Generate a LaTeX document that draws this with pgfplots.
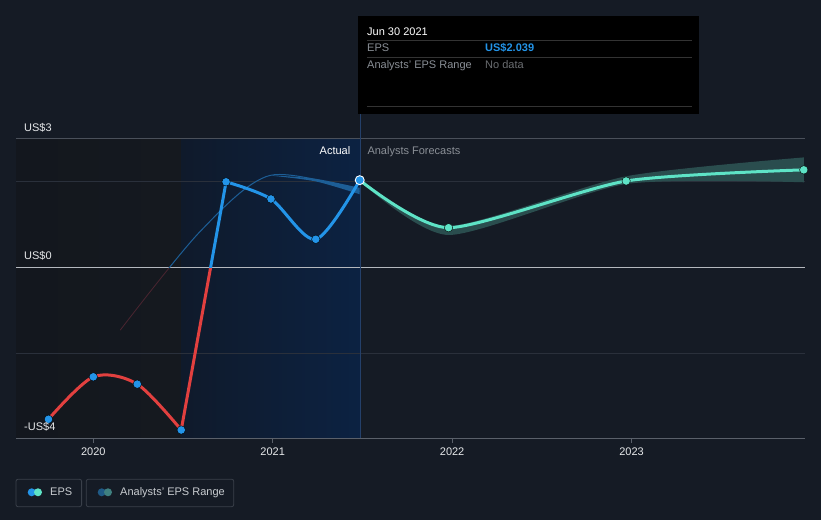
\documentclass[border=0pt]{standalone}
\usepackage{pgfplots}
\pgfplotsset{compat=1.18}
\usepgfplotslibrary{fillbetween}
\usepackage{fontspec}
\setmainfont{Liberation Sans}
\definecolor{bg}{HTML}{151B25}
\definecolor{leftreg}{HTML}{13171E}
\definecolor{leftreg2}{HTML}{15191F}
\definecolor{bluereg1}{HTML}{0F1A2B}
\definecolor{bluereg2}{HTML}{0C2242}
\definecolor{gridc}{HTML}{2A303B}
\definecolor{topline}{HTML}{4A505A}
\definecolor{zeroline}{HTML}{B4B8BE}
\definecolor{axisgray}{HTML}{5A606A}
\definecolor{ticktext}{HTML}{E6E8EA}
\definecolor{epsblue}{HTML}{2394E8}
\definecolor{epsred}{HTML}{E2403F}
\definecolor{teal}{HTML}{5EE3C6}
\definecolor{band}{HTML}{2A4D4E}
\definecolor{oldblue}{HTML}{1D5E96}
\definecolor{oldred}{HTML}{4A2530}
\definecolor{legborder}{HTML}{3A404A}
\definecolor{legtext}{HTML}{C8CCD0}
\definecolor{graytext}{HTML}{8A8F96}
\definecolor{dimtext}{HTML}{6B6E72}
\definecolor{ttline}{HTML}{333333}
\definecolor{vline}{HTML}{24406A}
\definecolor{legdarkblue}{HTML}{1F5A86}
\definecolor{legdarkteal}{HTML}{3F8080}
\begin{document}
\begin{tikzpicture}[font=\fontsize{11}{13}\selectfont]
\begin{axis}[
  at={(16pt,81pt)}, anchor=south west,
  width=789pt, height=300pt, scale only axis,
  set layers, clip mode=individual,
  xmin=2019.569, xmax=2023.967, ymin=-4, ymax=3,
  axis x line=bottom, axis y line=none,
  x axis line style={color=axisgray, line width=1pt, -},
  xtick={2020,2021,2022,2023}, xticklabels={2020,2021,2022,2023},
  ytick=\empty,
  tick align=outside, major tick length=4pt,
  tick style={color=axisgray, line width=0.8pt},
  xticklabel style={text=ticktext, anchor=base, yshift=-13pt},
]
\begin{pgfonlayer}{axis background}
  % page background: page spans 0..821pt x 0..520pt
  \fill[bg] (rel axis cs:-0.02028,-0.27) rectangle (rel axis cs:1.02028,1.46334);
  \fill[left color=leftreg, right color=leftreg2] (axis cs:2019.569,-4) rectangle (axis cs:2020.4916,3);
  \fill[left color=bluereg1, right color=bluereg2] (axis cs:2020.4916,-4) rectangle (axis cs:2021.4866,3);
\end{pgfonlayer}
\begin{pgfonlayer}{axis grid}
  \draw[gridc, line width=0.8pt] (axis cs:2019.569,2) -- (axis cs:2023.967,2);
  \draw[gridc, line width=0.8pt] (axis cs:2019.569,-2) -- (axis cs:2023.967,-2);
  \draw[topline, line width=1pt] (axis cs:2019.569,3) -- (axis cs:2023.967,3);
  \draw[zeroline, line width=1.3pt] (axis cs:2019.569,0) -- (axis cs:2023.967,0);
  \draw[vline, line width=1pt] (axis cs:2021.4866,-4) -- (axis cs:2021.4866,3.83);
\end{pgfonlayer}
% analysts forecast band
\addplot[name path=U, draw=none, smooth, tension=0.4, forget plot] coordinates {
 (2021.485,2.05) (2021.98,0.97) (2022.97,2.13) (2023.96,2.57)};
\addplot[name path=L, draw=none, smooth, tension=0.4, forget plot] coordinates {
 (2021.485,2.02) (2021.98,0.76) (2022.97,1.95) (2023.96,1.99)};
\addplot[band, draw=none, forget plot] fill between[of=U and L];
% older forecast line
\begin{scope}
\clip (axis cs:2019.569,0) rectangle (axis cs:2023.967,-4);
\addplot[oldred, line width=0.8pt, smooth, forget plot] coordinates {
 (2020.15,-1.46) (2020.595,0.84) (2020.985,2.15) (2021.485,1.78)};
\end{scope}
\begin{scope}
\clip (axis cs:2019.569,0) rectangle (axis cs:2023.967,3);
\addplot[oldblue, line width=1pt, smooth, forget plot] coordinates {
 (2020.15,-1.46) (2020.595,0.84) (2020.985,2.15) (2021.485,1.78)};
\end{scope}
\addplot[name path=OU, draw=none, smooth, forget plot] coordinates {
 (2021.0,2.15) (2021.24,2.07) (2021.485,1.86)};
\addplot[name path=OL, draw=none, smooth, forget plot] coordinates {
 (2021.0,2.14) (2021.24,2.01) (2021.485,1.71)};
\addplot[oldblue, draw=none, forget plot] fill between[of=OU and OL];
% actual EPS line, drawn in pieces between turning points
\begin{scope}
\clip (axis cs:2019.569,0) rectangle (axis cs:2023.967,-4);
\addplot[epsred, line width=3pt, smooth, forget plot] coordinates {
 (2019.75,-3.54) (2020.0,-2.55) (2020.245,-2.72) (2020.49,-3.79)};
\addplot[epsred, line width=3pt, forget plot] coordinates {
 (2020.49,-3.79) (2020.74,2.0)};
\end{scope}
\begin{scope}
\clip (axis cs:2019.569,0) rectangle (axis cs:2023.967,3);
\addplot[epsblue, line width=3pt, forget plot] coordinates {
 (2020.49,-3.79) (2020.74,2.0)};
\addplot[epsblue, line width=3pt, smooth, forget plot] coordinates {
 (2020.74,2.0) (2020.99,1.60) (2021.24,0.66) (2021.485,2.039)};
\end{scope}
% forecast line
\addplot[teal, line width=3pt, smooth, tension=0.4, forget plot] coordinates {
 (2021.485,2.039) (2021.98,0.93) (2022.97,2.02) (2023.96,2.28)};
\addplot[only marks, mark=*, mark size=4.2pt, mark options={fill=teal, draw=none}, forget plot] coordinates {
 (2021.98,0.93) (2022.97,2.02) (2023.96,2.28)};
\addplot[only marks, mark=*, mark size=4.2pt, mark options={fill=epsblue, draw=none}, forget plot] coordinates {
 (2019.75,-3.54) (2020.0,-2.55) (2020.245,-2.72) (2020.49,-3.79) (2020.74,2.0) (2020.99,1.60) (2021.24,0.66)};
\addplot[only marks, mark=*, mark size=4.5pt, mark options={fill=epsblue, draw=white, line width=0.9pt}, forget plot] coordinates {
 (2021.485,2.039)};
\end{axis}
% y labels
\node[anchor=base west, text=ticktext, inner sep=0] at (24pt,388pt) {US\$3};
\node[anchor=base west, text=ticktext, inner sep=0] at (24pt,260pt) {US\$0};
\node[anchor=base west, text=ticktext, inner sep=0] at (24pt,89pt) {-US\$4};
% region labels
\node[anchor=base east, text=white, inner sep=0] at (350.5pt,365pt) {Actual};
\node[anchor=base west, text=graytext, inner sep=0] at (367.3pt,365pt) {Analysts Forecasts};
% tooltip
\fill[black] (358pt,406pt) rectangle (699pt,504pt);
\node[anchor=base west, text=white, inner sep=0] at (367pt,484pt) {Jun 30 2021};
\draw[ttline, line width=0.8pt] (367pt,479.3pt) -- (692pt,479.3pt);
\node[anchor=base west, text=graytext, inner sep=0] at (367pt,468.3pt) {EPS};
\node[anchor=base west, text=epsblue, inner sep=0] at (485pt,468.3pt) {\bfseries US\$2.039};
\draw[ttline, line width=0.8pt] (367pt,462.7pt) -- (692pt,462.7pt);
\node[anchor=base west, text=graytext, inner sep=0] at (367pt,451pt) {Analysts' EPS Range};
\node[anchor=base west, text=dimtext, inner sep=0] at (485pt,451pt) {No data};
\draw[ttline, line width=0.8pt] (367pt,413.3pt) -- (692pt,413.3pt);
% legend
\draw[legborder, line width=0.8pt, rounded corners=2pt] (16pt,13.3pt) rectangle (81.6pt,40.7pt);
\fill[epsblue] (31.7pt,27.7pt) circle (4pt);
\fill[teal] (38pt,27.7pt) circle (4pt);
\node[anchor=base west, text=legtext, inner sep=0] at (50pt,24.3pt) {EPS};
\draw[legborder, line width=0.8pt, rounded corners=2pt] (86.3pt,13.3pt) rectangle (233.7pt,40.7pt);
\fill[legdarkblue] (101.7pt,27.7pt) circle (4pt);
\fill[legdarkteal] (108pt,27.7pt) circle (4pt);
\node[anchor=base west, text=legtext, inner sep=0] at (120pt,24.3pt) {Analysts' EPS Range};
\end{tikzpicture}
\end{document}
